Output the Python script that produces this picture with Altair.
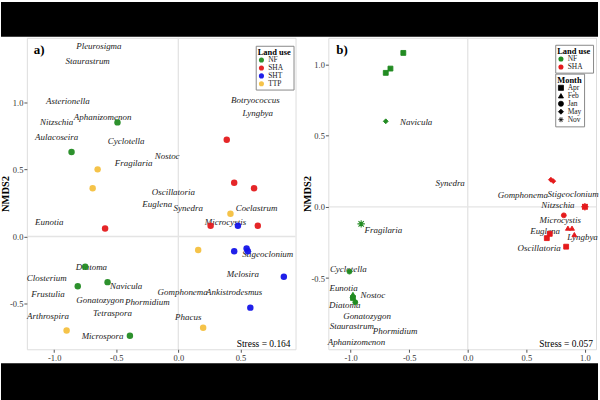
import altair as alt
import pandas as pd

FONT = "Liberation Serif"

# ---------------- Panel a: sites ----------------
a_site_landuse = ["NF"] * 6 + ["SHA"] * 6 + ["SHT"] * 6 + ["TTP"] * 6
a_site_x = [-0.49, -0.86, -0.75, -0.57, -0.81, -0.39,
            0.39, 0.45, 0.61, -0.59, 0.26, 0.64,
            0.48, 0.45, 0.55, 0.56, 0.85, 0.58,
            -0.65, -0.69, 0.42, 0.16, -0.90, 0.20]
a_site_y = [0.85, 0.63, -0.225, -0.34, -0.37, -0.74,
            0.72, 0.40, 0.36, 0.06, 0.08, 0.08,
            0.08, -0.11, -0.09, -0.11, -0.30, -0.53,
            0.50, 0.36, 0.17, -0.10, -0.70, -0.68]

# ---------------- Panel a: species ----------------
a_species = ["Pleurosigma", "Staurastrum", "Asterionella", "Aphanizomenon", "Nitzschia",
             "Aulacoseira", "Cyclotella", "Nostoc", "Fragilaria", "Botryococcus", "Lyngbya",
             "Oscillatoria", "Euglena", "Synedra", "Coelastrum", "Microcystis", "Eunotia",
             "Stigeoclonium", "Diatoma", "Closterium", "Melosira", "Navicula", "Frustulia",
             "Gomphonema", "Ankistrodesmus", "Gonatozygon", "Phormidium", "Arthrospira",
             "Tetraspora", "Phacus", "Microspora"]
a_species_x = [-0.64, -0.73, -0.89, -0.61, -0.98, -0.98, -0.42, -0.09, -0.36, 0.62, 0.64,
               -0.04, -0.17, 0.08, 0.63, 0.38, -1.04, 0.72, -0.70, -1.06, 0.52, -0.42, -1.05,
               0.035, 0.45, -0.63, -0.25, -1.05, -0.53, 0.08, -0.61]
a_species_y = [1.42, 1.31, 1.01, 0.89, 0.85, 0.74, 0.71, 0.60, 0.55, 1.02, 0.92,
               0.33, 0.24, 0.21, 0.21, 0.11, 0.11, -0.13, -0.225, -0.31, -0.28, -0.37, -0.43,
               -0.41, -0.41, -0.47, -0.49, -0.59, -0.57, -0.60, -0.74]

# ---------------- Panel b: sites ----------------
b_site_landuse = ["NF"] * 10 + ["SHA"] * 11
b_site_month = ["Apr", "Apr", "Apr", "May", "Nov", "Jan", "Feb", "Apr", "Jan", "Feb",
                "May", "May", "Nov", "Jan", "Feb", "Feb", "Feb", "Apr", "Apr", "Apr", "Apr"]
b_site_x = [-0.55, -0.66, -0.70, -0.70, -0.91, -1.01, -0.98, -0.98, -0.96, -0.985,
            0.71, 0.73, 1.00, 0.82, 0.855, 0.89, 0.91, 0.70, 0.675, 0.84, 1.00]
b_site_y = [1.08, 0.97, 0.94, 0.60, -0.12, -0.455, -0.615, -0.64, -0.67, -0.625,
            0.19, 0.18, 0.00, -0.06, -0.15, -0.15, -0.195, -0.19, -0.22, -0.28, 0.00]

# ---------------- Panel b: species ----------------
b_species = ["Navicula", "Synedra", "Gomphonema", "Stigeoclonium", "Nitzschia", "Microcystis",
             "Euglena", "Lyngbya", "Oscillatoria", "Fragilaria", "Cyclotella", "Eunotia",
             "Nostoc", "Diatoma", "Gonatozygon", "Staurastrum", "Phormidium", "Aphanizomenon"]
b_species_x = [-0.44, -0.15, 0.47, 0.90, 0.77, 0.79, 0.66, 0.98, 0.61, -0.72, -1.02, -1.06,
               -0.81, -1.05, -0.86, -0.99, -0.62, -0.95]
b_species_y = [0.595, 0.17, 0.08, 0.09, 0.01, -0.09, -0.17, -0.21, -0.29, -0.16, -0.44, -0.57,
               -0.62, -0.69, -0.77, -0.84, -0.87, -0.95]

months = ["Apr", "Feb", "Jan", "May", "Nov"]
ASTERISK = "M-1,0H1M0,-1V1M-0.72,-0.72L0.72,0.72M-0.72,0.72L0.72,-0.72"
month_shapes = ["square", "triangle-up", "circle", "diamond", ASTERISK]

colors_a = ["#228B22", "#E41A1C", "#1414E8", "#F4C03F"]
colors_b = ["#228B22", "#E41A1C"]

a_sites = pd.DataFrame({"x": a_site_x, "y": a_site_y, "landuse": a_site_landuse})
a_spec = pd.DataFrame({"x": a_species_x, "y": a_species_y, "name": a_species})
b_sites = pd.DataFrame({"x": b_site_x, "y": b_site_y, "landuse": b_site_landuse,
                        "month": b_site_month})
b_spec = pd.DataFrame({"x": b_species_x, "y": b_species_y, "name": b_species})
one = pd.DataFrame({"k": [0]})

W_A, W_B, H = 270, 269, 313
LBL = "(datum.value < 0 ? '-' : '') + format(abs(datum.value), '.1f')"


def xenc(dom, vals):
    return alt.X("x:Q", scale=alt.Scale(domain=dom, nice=False, zero=False),
                 axis=alt.Axis(values=vals, title="NMDS1", labelExpr=LBL, grid=False,
                               domain=False, tickSize=3, tickColor="#555",
                               labelFontSize=8.5, labelColor="#333", labelPadding=1,
                               titleFontSize=11, titleFontWeight="bold", titlePadding=1,
                               titleColor="black", zindex=1))


def yenc(dom, vals):
    return alt.Y("y:Q", scale=alt.Scale(domain=dom, nice=False, zero=False),
                 axis=alt.Axis(values=vals, title="NMDS2", labelExpr=LBL, grid=False,
                               domain=False, tickSize=3, tickColor="#555",
                               labelFontSize=8.5, labelColor="#333", labelPadding=1,
                               titleFontSize=10.5, titleFontWeight="bold", titlePadding=0,
                               minExtent=16, maxExtent=16, titleColor="black", zindex=1))


def legend_style(title, lx, ly, **kw):
    return alt.Legend(title=title, orient="none", legendX=lx, legendY=ly,
                      fillColor="white", strokeColor="#888", padding=2,
                      titleFont=FONT, titleFontSize=8.5, titleFontWeight="bold",
                      titleColor="black", titlePadding=0, labelFont=FONT,
                      labelFontSize=7.5, labelColor="#222", rowPadding=-2,
                      labelOffset=3, **kw)


def zero_rules(xdom, ydom, xv, yv):
    v = alt.Chart(one).mark_rule(color="#e4e4e4", strokeWidth=1.3).encode(
        x=alt.X("z:Q", scale=alt.Scale(domain=xdom, nice=False, zero=False),
                axis=alt.Axis(values=xv, title="NMDS1")))
    v = v.transform_calculate(z="0")
    h = alt.Chart(one).mark_rule(color="#e4e4e4", strokeWidth=1.3).encode(
        y=alt.Y("z:Q", scale=alt.Scale(domain=ydom, nice=False, zero=False),
                axis=alt.Axis(values=yv, title="NMDS2"))).transform_calculate(z="0")
    return v, h


# ---------------- panel a ----------------
XA, YA = [-1.22, 0.944], [-0.84, 1.48]
xa_vals, ya_vals = [-1.0, -0.5, 0.0, 0.5], [-0.5, 0.0, 0.5, 1.0]

bar_top = alt.Chart(one).mark_rect(color="black").encode(
    x=alt.value(-26), x2=alt.value(574), y=alt.value(-36), y2=alt.value(-1))
bar_bot = alt.Chart(one).mark_rect(color="black").encode(
    x=alt.value(-26), x2=alt.value(574), y=alt.value(327), y2=alt.value(364))

va, ha = zero_rules(XA, YA, xa_vals, ya_vals)

pts_a = alt.Chart(a_sites).mark_circle(size=42, opacity=0.95).encode(
    x=xenc(XA, xa_vals), y=yenc(YA, ya_vals),
    color=alt.Color("landuse:N", scale=alt.Scale(domain=["NF", "SHA", "SHT", "TTP"],
                                                  range=colors_a),
                    legend=legend_style("Land use", 230, 8, symbolType="circle",
                                        symbolSize=26)))

txt_a = alt.Chart(a_spec).mark_text(font=FONT, fontStyle="italic", fontSize=9,
                                    color="#222").encode(
    x=xenc(XA, xa_vals), y=yenc(YA, ya_vals), text="name:N")

lab_a = alt.Chart(one).mark_text(font=FONT, fontWeight="bold", fontSize=13, align="left",
                                 baseline="middle", color="black").encode(
    x=alt.value(7), y=alt.value(12), text=alt.value("a)"))
stress_a = alt.Chart(one).mark_text(font=FONT, fontSize=9.5, align="right",
                                    baseline="middle", color="black").encode(
    x=alt.value(265), y=alt.value(308), text=alt.value("Stress = 0.164"))

panel_a = alt.layer(bar_top, bar_bot, va, ha, txt_a, pts_a, lab_a, stress_a).properties(
    width=W_A, height=H)

# ---------------- panel b ----------------
XB, YB = [-1.19, 1.095], [-1.0, 1.186]
xb_vals, yb_vals = [-1.0, -0.5, 0.0, 0.5, 1.0], [-0.5, 0.0, 0.5, 1.0]
vb, hb = zero_rules(XB, YB, xb_vals, yb_vals)

color_b = alt.Color("landuse:N", scale=alt.Scale(domain=["NF", "SHA"], range=colors_b),
                    legend=legend_style("Land use", 228, 7, symbolType="circle",
                                        symbolSize=26, symbolStrokeWidth=0))
stroke_b = alt.Stroke("landuse:N", scale=alt.Scale(domain=["NF", "SHA"], range=colors_b),
                      legend=None)

pts_b = alt.Chart(b_sites).transform_filter("datum.month != 'Nov'").mark_point(
    filled=True, size=24, strokeWidth=0.9, opacity=1).encode(
    x=xenc(XB, xb_vals), y=yenc(YB, yb_vals),
    color=color_b, stroke=stroke_b,
    shape=alt.Shape("month:N", scale=alt.Scale(domain=months, range=month_shapes),
                    legend=legend_style("Month", 228, 36, symbolSize=26,
                                        symbolFillColor="black", symbolStrokeColor="black",
                                        symbolStrokeWidth=0.8)))

nov_b = alt.Chart(b_sites).transform_filter("datum.month == 'Nov'").mark_point(
    filled=True, size=55, strokeWidth=1.1, opacity=1, shape=ASTERISK).encode(
    x=xenc(XB, xb_vals), y=yenc(YB, yb_vals), color=color_b, stroke=stroke_b)

txt_b = alt.Chart(b_spec).mark_text(font=FONT, fontStyle="italic", fontSize=9,
                                    color="#222").encode(
    x=xenc(XB, xb_vals), y=yenc(YB, yb_vals), text="name:N")

lab_b = alt.Chart(one).mark_text(font=FONT, fontWeight="bold", fontSize=13, align="left",
                                 baseline="middle", color="black").encode(
    x=alt.value(8), y=alt.value(12), text=alt.value("b)"))
stress_b = alt.Chart(one).mark_text(font=FONT, fontSize=9.5, align="right",
                                    baseline="middle", color="black").encode(
    x=alt.value(266), y=alt.value(308), text=alt.value("Stress = 0.057"))

panel_b = alt.layer(vb, hb, txt_b, pts_b, nov_b, lab_b, stress_b).properties(
    width=W_B, height=H)

chart = alt.HConcatChart(hconcat=[panel_a, panel_b], spacing=33, bounds="flush",
                         padding=0, background="white").resolve_scale(
    color="independent", shape="independent", stroke="independent",
    x="independent", y="independent").resolve_legend(color="independent")

chart = chart.configure_view(stroke="#8c8c8c", strokeWidth=1).configure(font=FONT)

chart.save("out.html", embed_options={"renderer": "svg", "actions": False})
